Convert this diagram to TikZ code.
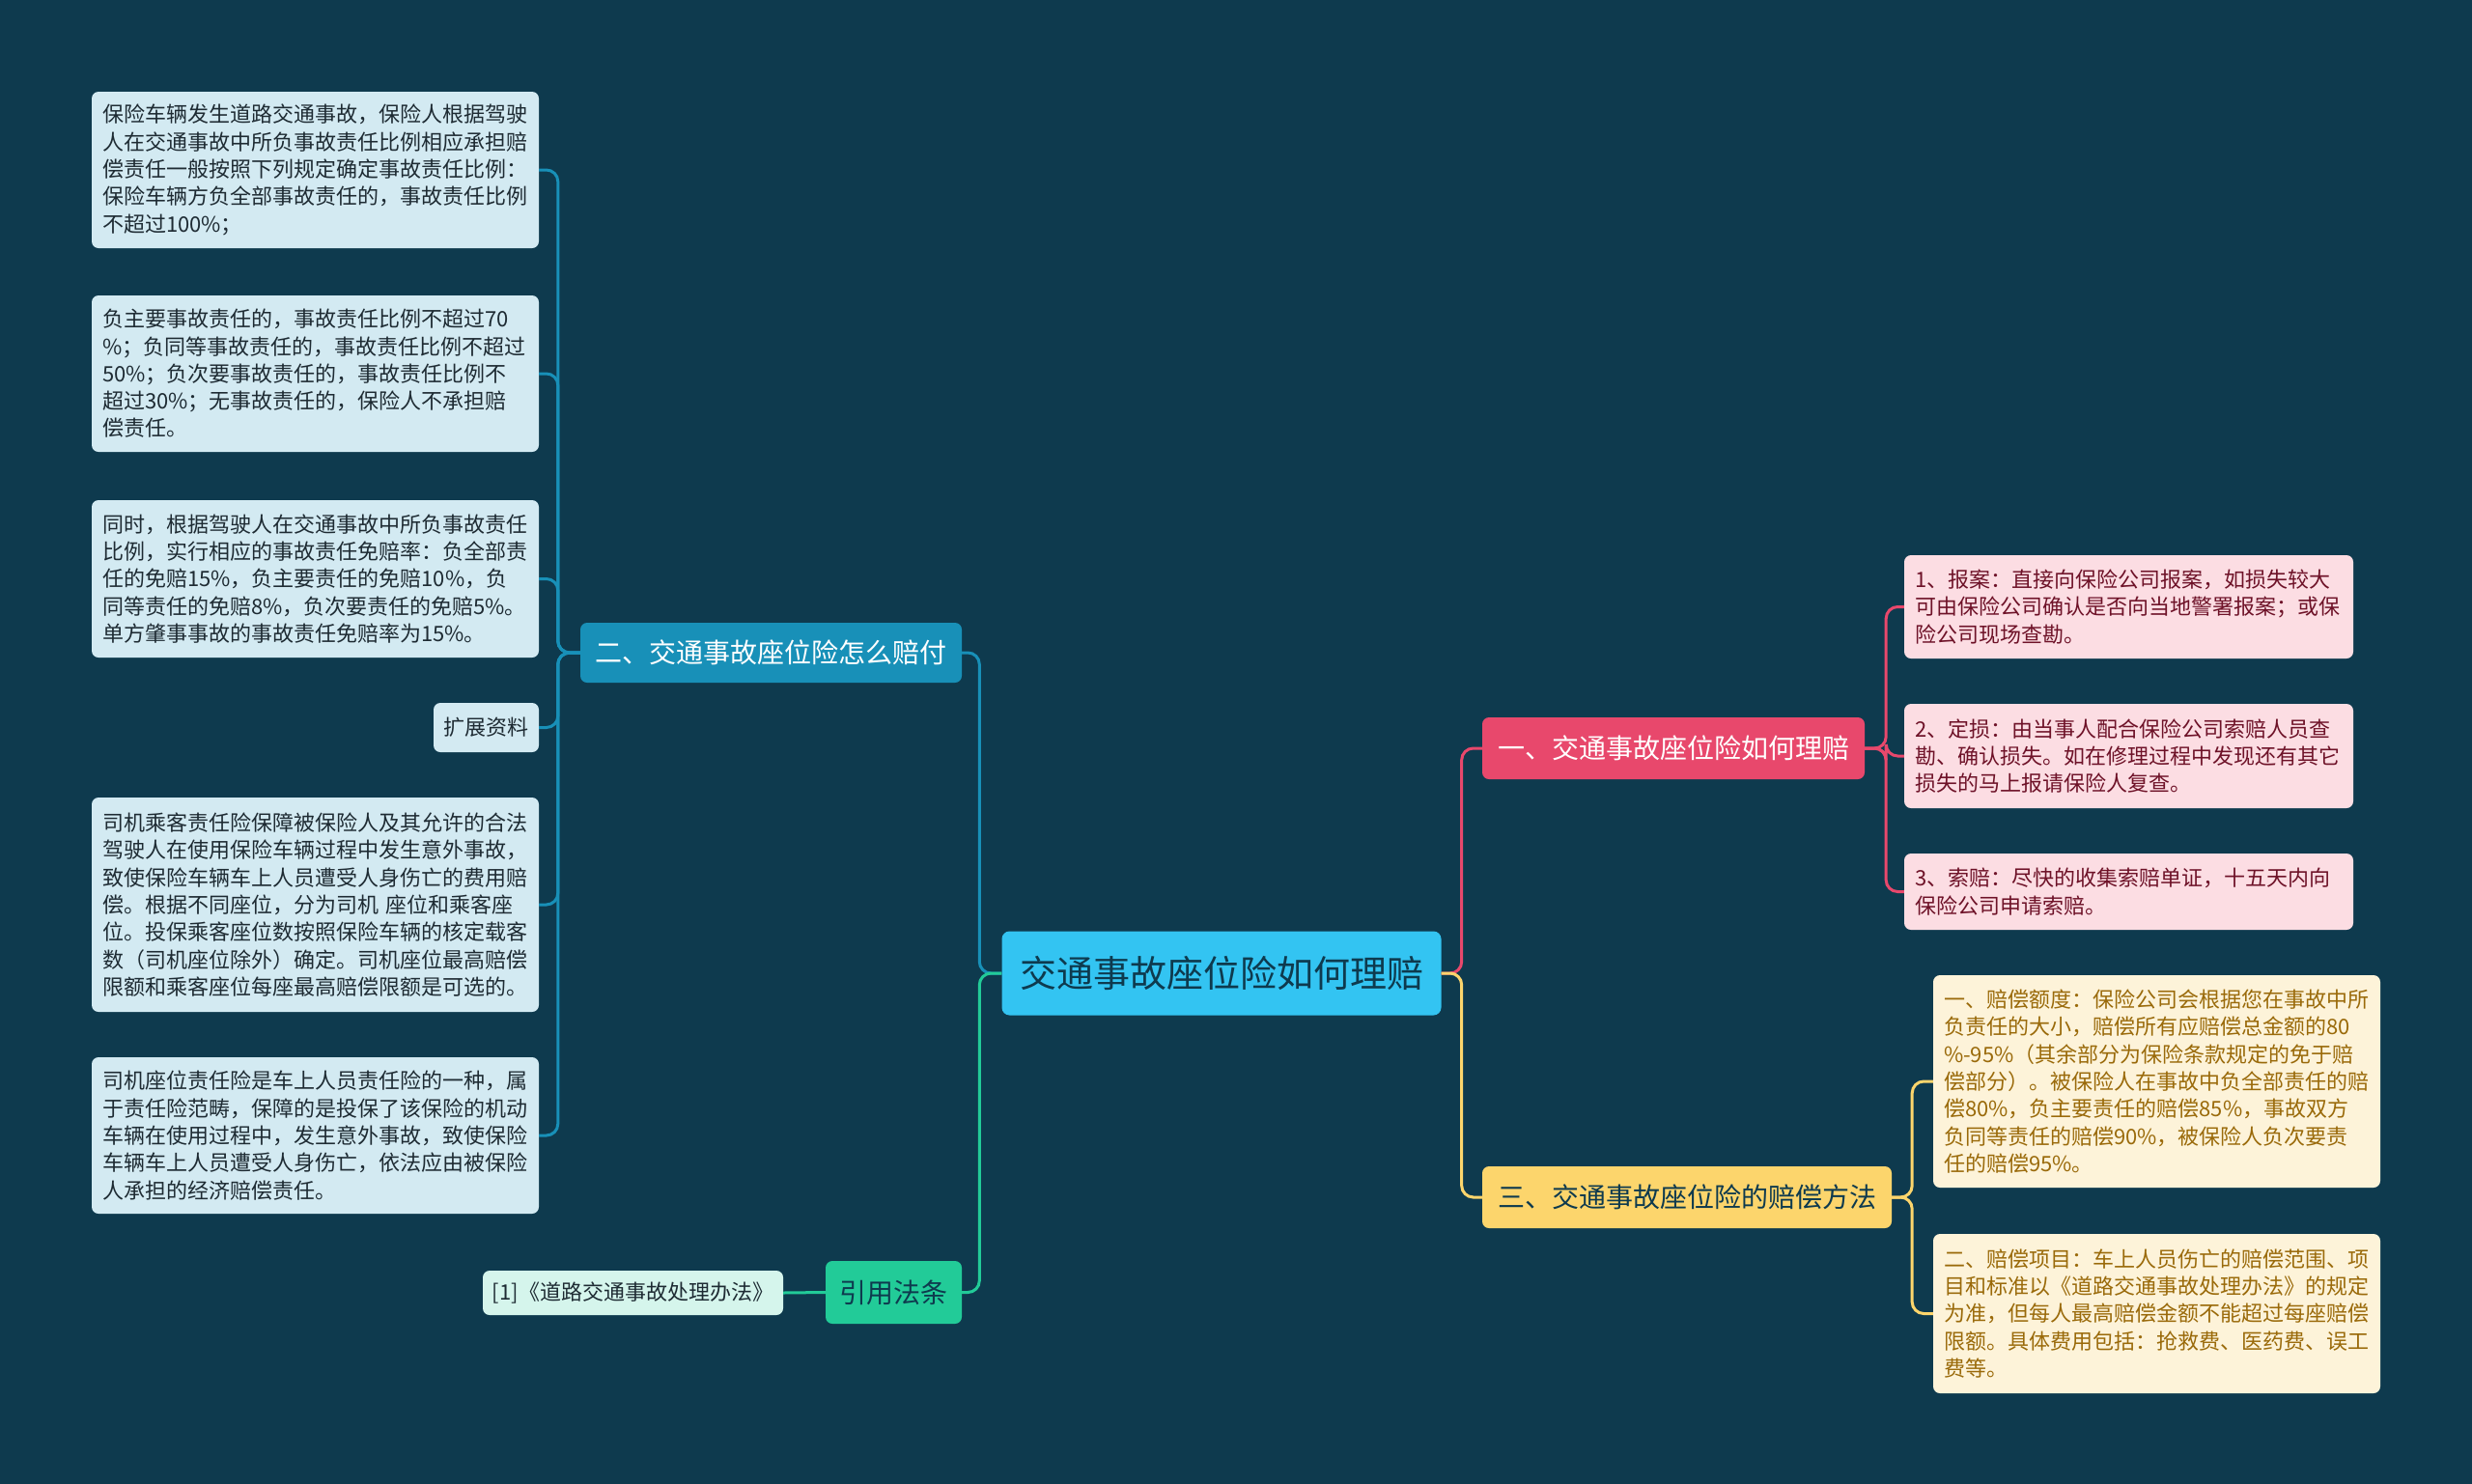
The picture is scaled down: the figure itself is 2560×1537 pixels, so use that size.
\documentclass[tikz,border=0pt]{standalone}
\usepackage{fontspec}
\setmainfont{Noto Sans CJK SC}
\definecolor{bgcol}{HTML}{0E3A4E}
\definecolor{leafB}{HTML}{D3EAF2}
\definecolor{leafBtext}{HTML}{1E2B33}
\definecolor{leafP}{HTML}{FCDDE3}
\definecolor{leafPtext}{HTML}{6E1228}
\definecolor{leafY}{HTML}{FDF3D9}
\definecolor{leafYtext}{HTML}{9A6A0A}
\definecolor{leafG}{HTML}{D5F5EC}
\definecolor{centralcol}{HTML}{33C4F2}
\definecolor{bluecol}{HTML}{1890B8}
\definecolor{pinkcol}{HTML}{E8486C}
\definecolor{yellowcol}{HTML}{FCD56C}
\definecolor{greencol}{HTML}{22CB98}
\definecolor{darktext}{HTML}{0E3A4E}
\tikzset{
  leaf/.style={rounded corners=7pt, align=left, inner xsep=11pt, inner ysep=0pt,
    font=\fontsize{22}{28.3}\selectfont, anchor=center},
  leafL/.style={leaf, fill=leafB, text=leafBtext, text width=441pt},
  leafR/.style={leaf, fill=leafP, text=leafPtext, text width=443pt},
  leafYs/.style={leaf, fill=leafY, text=leafYtext, text width=441pt},
  mainnode/.style={rounded corners=7pt, inner sep=0pt, align=center,
    font=\fontsize{28}{34}\selectfont, minimum height=64pt, anchor=center},
  conn/.style={line width=3pt, rounded corners=12pt},
}
\begin{document}
\begin{tikzpicture}[x=1pt,y=-1pt]
\fill[bgcol] (0,0) rectangle (2560,1537);
\useasboundingbox (0,0) rectangle (2560,1537);

% central
\node[rounded corners=8pt, fill=centralcol, text=darktext, inner sep=0pt,
  minimum width=455pt, minimum height=87pt, font=\fontsize{38}{46}\selectfont]
  (c) at (1265,1008) {交通事故座位险如何理赔};

% level 1
\node[mainnode, fill=bluecol, text=white, minimum width=395pt, minimum height=62pt]
  (b) at (798.5,676) {二、交通事故座位险怎么赔付};
\node[mainnode, fill=greencol, text=darktext, minimum width=141pt, minimum height=65pt]
  (g) at (925.5,1338.5) {引用法条};
\node[mainnode, fill=pinkcol, text=white, minimum width=396pt]
  (p) at (1733,775) {一、交通事故座位险如何理赔};
\node[mainnode, fill=yellowcol, text=darktext, minimum width=424pt]
  (y) at (1747,1240) {三、交通事故座位险的赔偿方法};

% left leaves
\node[leafL, minimum height=162pt] (l1) at (326.5,176) {保险车辆发生道路交通事故，保险人根据驾驶\\人在交通事故中所负事故责任比例相应承担赔\\偿责任一般按照下列规定确定事故责任比例：\\保险车辆方负全部事故责任的，事故责任比例\\不超过100\%；};
\node[leafL, minimum height=162pt] (l2) at (326.5,387) {负主要事故责任的，事故责任比例不超过70\\\%；负同等事故责任的，事故责任比例不超过\\50\%；负次要事故责任的，事故责任比例不\\超过30\%；无事故责任的，保险人不承担赔\\偿责任。};
\node[leafL, minimum height=163pt] (l3) at (326.5,599.5) {同时，根据驾驶人在交通事故中所负事故责任\\比例，实行相应的事故责任免赔率：负全部责\\任的免赔15\%，负主要责任的免赔10\%，负\\同等责任的免赔8\%，负次要责任的免赔5\%。\\单方肇事事故的事故责任免赔率为15\%。};
\node[leaf, fill=leafB, text=leafBtext, minimum width=109pt, minimum height=51pt, inner xsep=0pt]
  (ext) at (503.5,753.5) {扩展资料};
\node[leafL, minimum height=222pt] (l4) at (326.5,937) {司机乘客责任险保障被保险人及其允许的合法\\驾驶人在使用保险车辆过程中发生意外事故，\\致使保险车辆车上人员遭受人身伤亡的费用赔\\偿。根据不同座位，分为司机 座位和乘客座\\位。投保乘客座位数按照保险车辆的核定载客\\数（司机座位除外）确定。司机座位最高赔偿\\限额和乘客座位每座最高赔偿限额是可选的。};
\node[leafL, minimum height=162pt] (l5) at (326.5,1176) {司机座位责任险是车上人员责任险的一种，属\\于责任险范畴，保障的是投保了该保险的机动\\车辆在使用过程中，发生意外事故，致使保险\\车辆车上人员遭受人身伤亡，依法应由被保险\\人承担的经济赔偿责任。};

% citation
\node[leaf, fill=leafG, text=leafBtext, minimum width=311pt, minimum height=46pt, inner xsep=0pt]
  (cit) at (655.5,1339) {[1]《道路交通事故处理办法》};

% right pink leaves
\node[leafR, minimum height=107pt] (r1) at (2204.5,628.5) {1、报案：直接向保险公司报案，如损失较大\\可由保险公司确认是否向当地警署报案；或保\\险公司现场查勘。};
\node[leafR, minimum height=108pt] (r2) at (2204.5,783) {2、定损：由当事人配合保险公司索赔人员查\\勘、确认损失。如在修理过程中发现还有其它\\损失的马上报请保险人复查。};
\node[leafR, minimum height=79pt] (r3) at (2204.5,923.5) {3、索赔：尽快的收集索赔单证，十五天内向\\保险公司申请索赔。};

% right yellow leaves
\node[leafYs, minimum height=220pt] (y1) at (2233.5,1120) {一、赔偿额度：保险公司会根据您在事故中所\\负责任的大小，赔偿所有应赔偿总金额的80\\\%-95\%（其余部分为保险条款规定的免于赔\\偿部分）。被保险人在事故中负全部责任的赔\\偿80\%，负主要责任的赔偿85\%，事故双方\\负同等责任的赔偿90\%，被保险人负次要责\\任的赔偿95\%。};
\node[leafYs, minimum height=165pt] (y2) at (2233.5,1360.5) {二、赔偿项目：车上人员伤亡的赔偿范围、项\\目和标准以《道路交通事故处理办法》的规定\\为准，但每人最高赔偿金额不能超过每座赔偿\\限额。具体费用包括：抢救费、医药费、误工\\费等。};

% connectors
\draw[conn, bluecol] (c.west) -- ++(-23,0) |- (b.east);
\draw[conn, greencol] (c.west) -- ++(-23,0) |- (g.east);
\draw[conn, greencol] (g.west) -- (cit.east);
\draw[conn, pinkcol] (c.east) -- ++(21,0) |- (p.west);
\draw[conn, yellowcol] (c.east) -- ++(21,0) |- (y.west);

\foreach \n in {l1,l2,l3,ext,l4,l5}{
  \draw[conn, bluecol] (b.west) -- ++(-23,0) |- (\n.east);
}
\foreach \n in {r1,r2,r3}{
  \draw[conn, pinkcol] (p.east) -- ++(22,0) |- (\n.west);
}
\foreach \n in {y1,y2}{
  \draw[conn, yellowcol] (y.east) -- ++(21,0) |- (\n.west);
}
\end{tikzpicture}
\end{document}
